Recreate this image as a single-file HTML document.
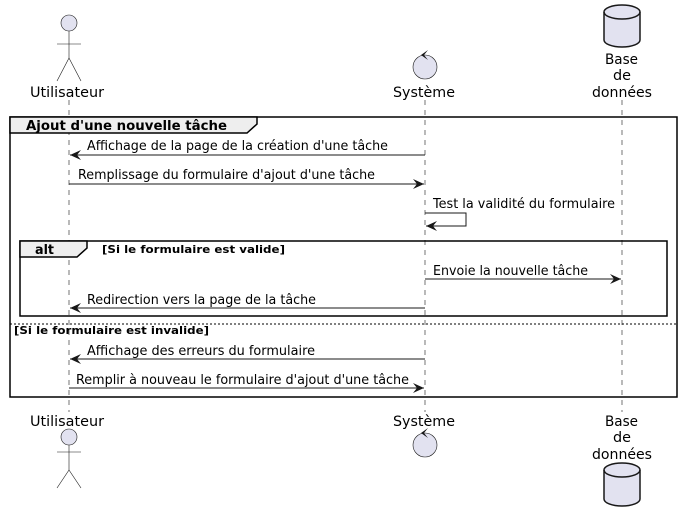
<!DOCTYPE html><html><head><style>body{margin:0;background:#fff}svg{display:block}text{font-family:"DejaVu Sans","Liberation Sans",sans-serif;fill:#000}</style></head><body>
<svg width="682" height="523" viewBox="0 0 682 523" xmlns="http://www.w3.org/2000/svg">
<defs><marker id="a" markerWidth="12" markerHeight="10" refX="11" refY="5" orient="auto" markerUnits="userSpaceOnUse"><path d="M0,0 L11,5 L0,10 L4,5 Z" fill="#181818"/></marker></defs>
<g stroke="#181818" stroke-width="0.6" stroke-dasharray="5,5">
<line x1="69" y1="100" x2="69" y2="412"/><line x1="425" y1="100" x2="425" y2="412"/><line x1="622" y1="100" x2="622" y2="412"/></g>
<g stroke="#181818" fill="#E2E2F0" stroke-width="0.6">
<circle cx="69" cy="23" r="8"/><line x1="69" y1="31" x2="69" y2="58"/><line x1="57" y1="44" x2="81" y2="44"/><path d="M69,58 L57,81 M69,58 L81,81" fill="none"/>
<circle cx="425" cy="67" r="12"/>
<circle cx="69" cy="437" r="8"/><line x1="69" y1="445" x2="69" y2="470"/><line x1="57" y1="452" x2="81" y2="452"/><path d="M69,470 L57,488 M69,470 L81,488" fill="none"/>
<circle cx="425" cy="445" r="12"/>
</g>
<path d="M428,50 L421,55 L428,60 L424,55Z" fill="#181818"/>
<path d="M428,428 L421,433 L428,438 L424,433Z" fill="#181818"/>
<g stroke="#181818" stroke-width="1.5" fill="#E2E2F0">
<path d="M604,12 A18,7 0 0 1 640,12 L640,40 A18,7 0 0 1 604,40 Z"/><path d="M604,12 A18,7 0 0 0 640,12" fill="none"/>
<path d="M604,470 A18,7 0 0 1 640,470 L640,499 A18,7 0 0 1 604,499 Z"/><path d="M604,470 A18,7 0 0 0 640,470" fill="none"/>
</g>
<g font-size="14" lengthAdjust="spacingAndGlyphs">
<text x="30" y="97" textLength="74" lengthAdjust="spacingAndGlyphs">Utilisateur</text>
<text x="393" y="97" textLength="62" lengthAdjust="spacingAndGlyphs">Système</text>
<text x="605" y="64" textLength="33" lengthAdjust="spacingAndGlyphs">Base</text>
<text x="613" y="80" textLength="18" lengthAdjust="spacingAndGlyphs">de</text>
<text x="592" y="97" textLength="60" lengthAdjust="spacingAndGlyphs">données</text>
<text x="30" y="426" textLength="74" lengthAdjust="spacingAndGlyphs">Utilisateur</text>
<text x="393" y="426" textLength="62" lengthAdjust="spacingAndGlyphs">Système</text>
<text x="605" y="426" textLength="33" lengthAdjust="spacingAndGlyphs">Base</text>
<text x="613" y="442" textLength="18" lengthAdjust="spacingAndGlyphs">de</text>
<text x="592" y="459" textLength="60" lengthAdjust="spacingAndGlyphs">données</text>
</g>
<rect x="10" y="117" width="667" height="280" fill="none" stroke="#000" stroke-width="1.5"/>
<path d="M10,117 L257,117 L257,124 L247,133 L10,133 Z" fill="#EEEEEE" stroke="#000" stroke-width="1.5"/>
<text x="26" y="130" font-size="13" font-weight="bold" textLength="201" lengthAdjust="spacingAndGlyphs">Ajout d'une nouvelle tâche</text>
<rect x="20" y="241" width="647" height="75" fill="none" stroke="#000" stroke-width="1.5"/>
<path d="M20,241 L87,241 L87,248 L77,257 L20,257 Z" fill="#EEEEEE" stroke="#000" stroke-width="1.5"/>
<text x="35" y="254" font-size="13" font-weight="bold" textLength="19" lengthAdjust="spacingAndGlyphs">alt</text>
<text x="102" y="253" font-size="11" font-weight="bold" textLength="183" lengthAdjust="spacingAndGlyphs">[Si le formulaire est valide]</text>
<line x1="10" y1="324" x2="677" y2="324" stroke="#000" stroke-width="1" stroke-dasharray="2,2"/>
<text x="14" y="334" font-size="11" font-weight="bold" textLength="195" lengthAdjust="spacingAndGlyphs">[Si le formulaire est invalide]</text>
<g stroke="#181818" stroke-width="1" fill="none" marker-end="url(#a)">
<line x1="425" y1="155" x2="70" y2="155"/>
<line x1="69" y1="184" x2="424" y2="184"/>
<polyline points="425,213 466,213 466,226 426,226"/>
<line x1="425" y1="279" x2="621" y2="279"/>
<line x1="425" y1="308" x2="70" y2="308"/>
<line x1="425" y1="359" x2="70" y2="359"/>
<line x1="69" y1="388" x2="424" y2="388"/>
</g>
<g font-size="13.5">
<text x="87" y="150" textLength="301" lengthAdjust="spacingAndGlyphs">Affichage de la page de la création d'une tâche</text>
<text x="78" y="179" textLength="297" lengthAdjust="spacingAndGlyphs">Remplissage du formulaire d'ajout d'une tâche</text>
<text x="433" y="208" textLength="182" lengthAdjust="spacingAndGlyphs">Test la validité du formulaire</text>
<text x="433" y="275" textLength="155" lengthAdjust="spacingAndGlyphs">Envoie la nouvelle tâche</text>
<text x="87" y="304" textLength="229" lengthAdjust="spacingAndGlyphs">Redirection vers la page de la tâche</text>
<text x="87" y="355" textLength="228" lengthAdjust="spacingAndGlyphs">Affichage des erreurs du formulaire</text>
<text x="76" y="384" textLength="333" lengthAdjust="spacingAndGlyphs">Remplir à nouveau le formulaire d'ajout d'une tâche</text>
</g>
</svg></body></html>
